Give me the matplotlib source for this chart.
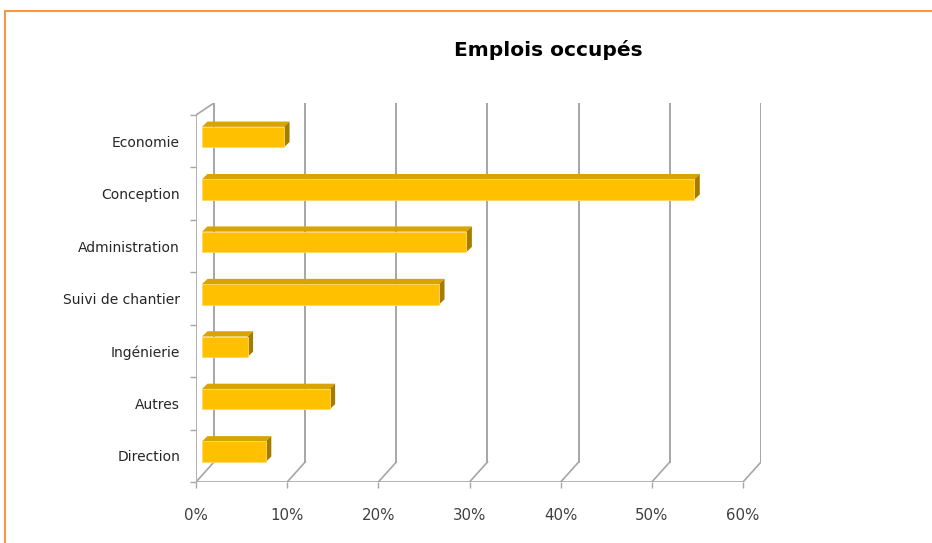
import matplotlib
matplotlib.use("Agg")
import matplotlib.pyplot as plt
from matplotlib.patches import Polygon, Rectangle

categories = ["Economie", "Conception", "Administration", "Suivi de chantier",
              "Ingénierie", "Autres", "Direction"]
values = [9, 54, 29, 26, 5, 14, 7]          # percent
x_ticks = [0, 10, 20, 30, 40, 50, 60]
x_tick_labels = ["0%", "10%", "20%", "30%", "40%", "50%", "60%"]

plt.rcParams["font.family"] = ["DejaVu Sans"]

W, H = 932, 543
fig = plt.figure(figsize=(W / 100, H / 100), dpi=100)
fig.patch.set_facecolor("white")

# plot box in pixels: front 0% at x=196, back 60% at x=761, floor y=482, top of back wall y=103
ax = fig.add_axes([196 / W, (H - 482) / H, (761 - 196) / W, (482 - 103) / H])
ax.set_facecolor("none")

n = len(categories)
unit = (482 - 115) / n          # px per category on the front plane
DX = 18 / 9.12                  # depth offset in percent units
DYB = 20 / unit                 # depth offset at the floor (perspective)
YTOP = (482 - 103) / unit       # top of the back wall
xmax = x_ticks[-1]
ax.set_xlim(0, xmax + DX)
ax.set_ylim(0, YTOP)

grid_c = "#a6a6a6"
# back wall gridlines and floor diagonals
for t in x_ticks:
    ax.plot([t + DX, t + DX], [DYB, YTOP], color=grid_c, lw=1.4, zorder=1)
    ax.plot([t, t + DX], [0, DYB], color=grid_c, lw=1.2, zorder=1)
# front floor edge and left wall
ax.plot([0, xmax], [0, 0], color=grid_c, lw=1.2, zorder=1)
ax.plot([0, 0], [0, n], color=grid_c, lw=1.2, zorder=1)
ax.plot([0, DX], [n, YTOP], color=grid_c, lw=1.2, zorder=1)

# pseudo 3D bars
bx0, by0 = 0.66, 0.08     # front face offset from the front plane
ddx, ddy = 0.6, 0.1       # bar depth
bh = 0.39
front_c, top_c, side_c = "#ffc000", "#d9a300", "#a67c00"
for k, (cat, v) in enumerate(zip(categories, values)):
    pos = n - 1 - k
    x0 = bx0
    x1 = v + bx0
    yc = pos + 0.5 + by0
    yb, yt = yc - bh / 2, yc + bh / 2
    ax.add_patch(Polygon([(x0, yt), (x1, yt), (x1 + ddx, yt + ddy), (x0 + ddx, yt + ddy)],
                         closed=True, facecolor=top_c, edgecolor="none", zorder=3))
    ax.add_patch(Polygon([(x1, yb), (x1, yt), (x1 + ddx, yt + ddy), (x1 + ddx, yb + ddy)],
                         closed=True, facecolor=side_c, edgecolor="none", zorder=3))
    ax.barh(yc, v, left=x0, height=bh, color=front_c, edgecolor="#ffd966",
            linewidth=0.6, zorder=4)

for s in ax.spines.values():
    s.set_visible(False)

ax.set_xticks(x_ticks)
ax.set_xticklabels(x_tick_labels, fontsize=10.8, color="#404040")
ax.tick_params(axis="x", length=4, width=1, color=grid_c, pad=15)

ax.set_yticks([n - 1 - k + 0.5 for k in range(n)])
ax.set_yticklabels(categories, fontsize=10, color="#262626")
ax.set_yticks(list(range(n + 1)), minor=True)
ax.tick_params(axis="y", which="major", length=0, pad=11.5)
ax.tick_params(axis="y", which="minor", length=4, width=1, color=grid_c)

fig.text(548 / W, 1 - 50 / H, "Emplois occupés", fontsize=14.5, fontweight="bold",
         color="black", ha="center", va="center")

# orange frame of the chart area
fig.add_artist(Rectangle((5 / W, -0.05), 1.1, 1 - 11 / H + 0.05, transform=fig.transFigure,
                         fill=False, edgecolor="#f79646", linewidth=1.5))

fig.savefig("out.png", dpi=100, facecolor="white")
